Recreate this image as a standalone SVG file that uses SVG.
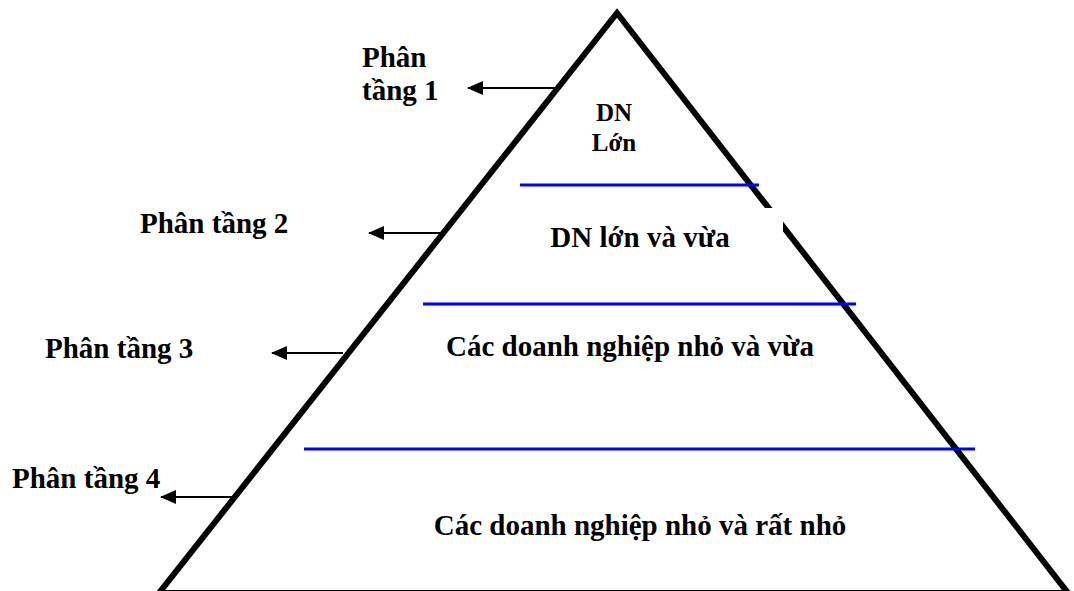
<svg xmlns="http://www.w3.org/2000/svg" width="1074" height="591" viewBox="0 0 1074 591">
  <style>
    .lbl { font-family: "Liberation Serif", "Times New Roman", serif; font-weight: bold; font-size: 29px; fill: #000; }
    .small { font-size: 25px; }
    .mid { text-anchor: middle; }
    .tier { stroke: #0000ff; stroke-width: 3; fill: none; }
    .edge { stroke: #000; stroke-width: 2; fill: none; }
  </style>
  <defs>
    <marker id="head" viewBox="0 0 16 14" refX="15" refY="7" markerWidth="16" markerHeight="14" markerUnits="userSpaceOnUse" orient="auto">
      <path d="M0,0 L16,7 L0,14 Z" fill="#000"/>
    </marker>
  </defs>
  <rect width="1074" height="591" fill="#fff"/>

  <!-- pyramid outline -->
  <g id="pyramid">
    <polygon points="617,13 159,593 1068,593" fill="none" stroke="#000" stroke-width="6" stroke-linejoin="miter"/>
    <rect x="735" y="208" width="48" height="30" fill="#fff"/>
  </g>

  <!-- tier dividers -->
  <g id="dividers">
    <line class="tier" x1="520" y1="185" x2="759" y2="185"/>
    <line class="tier" x1="423" y1="304" x2="856" y2="304"/>
    <line class="tier" x1="304" y1="449" x2="975" y2="449"/>
  </g>

  <!-- tier contents -->
  <g id="tier1">
    <text class="lbl small mid" x="614" y="121">DN</text>
    <text class="lbl small mid" x="614" y="151">Lớn</text>
  </g>
  <g id="tier2">
    <text class="lbl mid" x="640" y="247">DN lớn và vừa</text>
  </g>
  <g id="tier3">
    <text class="lbl mid" x="630" y="356">Các doanh nghiệp nhỏ và vừa</text>
  </g>
  <g id="tier4">
    <text class="lbl mid" x="640" y="535">Các doanh nghiệp nhỏ và rất nhỏ</text>
  </g>

  <!-- side labels -->
  <g id="label1">
    <text class="lbl" x="362" y="67">Phân</text>
    <text class="lbl" x="362" y="100">tầng 1</text>
  </g>
  <g id="label2"><text class="lbl" x="140" y="233">Phân tầng 2</text></g>
  <g id="label3"><text class="lbl" x="45" y="358">Phân tầng 3</text></g>
  <g id="label4"><text class="lbl" x="12" y="488">Phân tầng 4</text></g>

  <!-- connectors -->
  <g id="connectors">
    <line class="edge" x1="557" y1="88" x2="468" y2="88" marker-end="url(#head)"/>
    <line class="edge" x1="441" y1="233" x2="369" y2="233" marker-end="url(#head)"/>
    <line class="edge" x1="343" y1="353" x2="272" y2="353" marker-end="url(#head)"/>
    <line class="edge" x1="233" y1="497" x2="161" y2="497" marker-end="url(#head)"/>
  </g>
</svg>
